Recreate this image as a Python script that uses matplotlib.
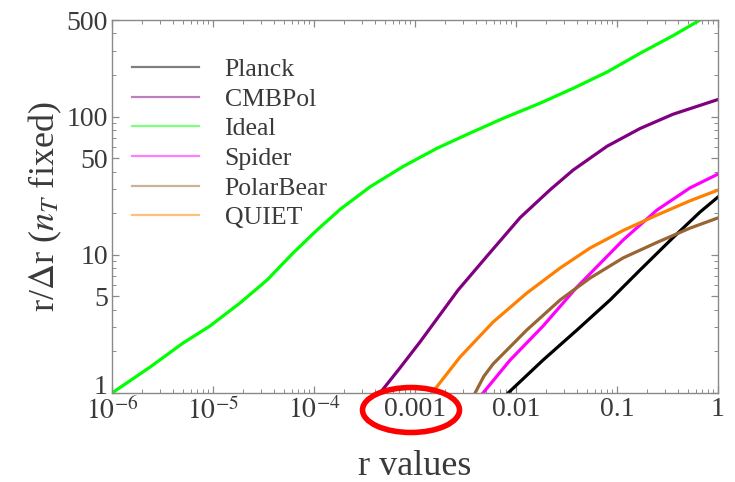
import matplotlib
matplotlib.use("Agg")
import matplotlib.pyplot as plt
import matplotlib.transforms as mtransforms
from matplotlib.patches import Ellipse
from matplotlib.ticker import FixedLocator, LogLocator, NullFormatter

# ── Data ─────────────────────────────────────────────────────────────────────
ideal_r  = [1.0e-6, 2.38e-6, 5.05e-6, 9.3e-6, 1.85e-5, 3.43e-5, 6.2e-5, 1.07e-4,
            1.81e-4, 3.58e-4, 7.6e-4, 1.65e-3, 3.51e-3, 7.43e-3, 0.0173, 0.0367,
            0.0796, 0.169, 0.358, 0.664]
ideal_v  = [1.0, 1.54, 2.30, 3.05, 4.48, 6.57, 10.3, 15.1,
            21.3, 31.0, 43.5, 59.0, 76.0, 97.0, 125, 160,
            210, 287, 385, 500]

cmbpol_r = [4.5e-4, 7.1e-4, 1.12e-3, 2.67e-3, 5.17e-3, 0.0110, 0.0217, 0.0367,
            0.0796, 0.169, 0.358, 1.0]
cmbpol_v = [1.0, 1.52, 2.34, 5.56, 9.8, 18.6, 29.5, 41.0,
            61.0, 82.0, 104, 133]

quiet_r  = [1.47e-3, 2.79e-3, 5.92e-3, 0.0128, 0.0273, 0.0541, 0.115, 0.249, 0.528, 1.0]
quiet_v  = [1.0, 1.82, 3.26, 5.29, 8.02, 11.2, 15.0, 19.4, 24.6, 29.4]

polar_r  = [3.93e-3, 4.8e-3, 5.92e-3, 0.0128, 0.0273, 0.0541, 0.115, 0.249, 0.528, 1.0]
polar_v  = [1.0, 1.32, 1.62, 2.86, 4.71, 6.79, 9.5, 12.3, 15.6, 18.5]

spider_r = [4.71e-3, 8.73e-3, 0.0185, 0.0402, 0.0541, 0.115, 0.249, 0.528, 1.0]
spider_v = [1.0, 1.73, 3.05, 5.85, 7.3, 12.8, 21.1, 30.5, 38.4]

planck_r = [8.34e-3, 0.0185, 0.0402, 0.0853, 0.169, 0.358, 0.664, 1.0]
planck_v = [1.0, 1.73, 2.86, 4.71, 7.76, 13.3, 20.4, 26.2]

x_ticks  = [1e-6, 1e-5, 1e-4, 1e-3, 1e-2, 1e-1, 1]
x_labels = [r"$10^{-6}$", r"$10^{-5}$", r"$10^{-4}$", "0.001", "0.01", "0.1", "1"]
y_ticks  = [1, 5, 10, 50, 100, 500]
y_labels = ["1", "5", "10", "50", "100", "500"]

# draw order / legend order
series = [
    ("Planck",    planck_r, planck_v, "black"),
    ("CMBPol",    cmbpol_r, cmbpol_v, "#800080"),
    ("Ideal",     ideal_r,  ideal_v,  "#00ff00"),
    ("Spider",    spider_r, spider_v, "#ff00ff"),
    ("PolarBear", polar_r,  polar_v,  "#996633"),
    ("QUIET",     quiet_r,  quiet_v,  "#ff8000"),
]

plt.rcParams["font.family"] = ["Liberation Serif", "DejaVu Serif"]
plt.rcParams["mathtext.fontset"] = "stix"

TXT = "#3a3a3a"
FRAME = "#8a8a8a"

fig = plt.figure(figsize=(7.35, 4.82), dpi=100)
ax = fig.add_axes([0.1524, 0.1846, 0.8245, 0.7739])

for name, r, v, col in series:
    ax.plot(r, v, color=col, lw=2.3, solid_joinstyle="round")

ax.set_xscale("log")
ax.set_yscale("log")
ax.set_xlim(1e-6, 1)
ax.set_ylim(1, 500)

ax.xaxis.set_major_locator(FixedLocator(x_ticks))
ax.set_xticklabels(x_labels)
ax.xaxis.set_minor_locator(LogLocator(base=10, subs=range(2, 10), numticks=20))
ax.xaxis.set_minor_formatter(NullFormatter())
ax.yaxis.set_major_locator(FixedLocator(y_ticks))
ax.set_yticklabels(y_labels)
ax.yaxis.set_minor_locator(LogLocator(base=10, subs=range(2, 10), numticks=20))
ax.yaxis.set_minor_formatter(NullFormatter())

ax.tick_params(which="both", direction="in", top=True, right=True, color=FRAME)
ax.tick_params(which="major", length=5, width=0.9, labelsize=20, labelcolor=TXT, pad=3)
ax.tick_params(which="minor", length=3, width=0.7)
for s in ax.spines.values():
    s.set_color(FRAME)
    s.set_linewidth(1.0)

# the "1" label sits a little higher than its tick, as in the original
lab1 = ax.get_yticklabels()[0]
lab1.set_transform(lab1.get_transform() +
                   mtransforms.ScaledTranslation(0, 6 / 72, fig.dpi_scale_trans))

ax.set_xlabel("r values", fontsize=26, color=TXT, labelpad=18)
ax.set_ylabel(r"r/$\Delta$r ($n_T$ fixed)", fontsize=26, color=TXT, labelpad=2)

# legend: faint thin handles, no frame
handles = [plt.Line2D([], [], color=col, lw=1.6, alpha=0.5) for _, _, _, col in series]
ax.legend(handles, [s[0] for s in series], loc="upper left",
          bbox_to_anchor=(0.033, 0.898), frameon=False, fontsize=18.5,
          handlelength=2.6, handletextpad=1.0, labelspacing=0.26,
          labelcolor=TXT, borderaxespad=0.0, borderpad=0.0)

# red hand-drawn circle around the 0.001 label
ring = Ellipse((411 / 735, 1 - 410 / 482), 97 / 735, 45 / 482,
               transform=fig.transFigure, fill=False, edgecolor="red",
               lw=4, clip_on=False)
fig.add_artist(ring)

fig.savefig("out.png", dpi=100)
